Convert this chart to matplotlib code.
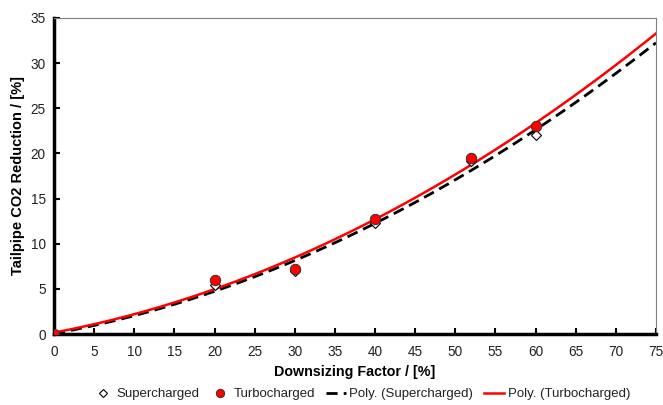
import numpy as np
import matplotlib
matplotlib.use("Agg")
import matplotlib.pyplot as plt

plt.rcParams['font.family'] = ['Liberation Sans', 'DejaVu Sans']

downsizing = [0, 20, 30, 40, 52, 60]
supercharged = [0.0, 5.4, 7.0, 12.3, 19.2, 22.0]
turbocharged = [0.0, 6.0, 7.2, 12.7, 19.5, 23.0]
x_ticks = list(range(0, 80, 5))
y_ticks = list(range(0, 40, 5))

fig = plt.figure(figsize=(6.63, 4.05), dpi=100)
ax = fig.add_axes([0.0814, 0.1753, 0.908, 0.7803])

xs = np.linspace(0, 75, 200)
ps = np.polyfit(downsizing, supercharged, 2)
pt = np.polyfit(downsizing, turbocharged, 2)

ax.plot(downsizing, supercharged, linestyle='none', marker='D', markersize=5.5,
        markerfacecolor='white', markeredgecolor='black', markeredgewidth=0.8,
        label='Supercharged', zorder=3)
ax.plot(downsizing, turbocharged, linestyle='none', marker='o', markersize=7.5,
        markerfacecolor='#ff0000', markeredgecolor='#333333', markeredgewidth=0.7,
        label='Turbocharged', zorder=4)
ax.plot(xs, np.polyval(ps, xs), color='black', linewidth=2, linestyle=(0, (4, 2.2)),
        label='Poly. (Supercharged)', zorder=2)
ax.plot(xs, np.polyval(pt, xs), color='#ff0000', linewidth=1.8,
        label='Poly. (Turbocharged)', zorder=2)

ax.set_xlim(0, 75)
ax.set_ylim(0, 35)
ax.set_xticks(x_ticks)
ax.set_yticks(y_ticks)
ax.tick_params(direction='in', length=4, width=1.5, labelsize=9.8, colors='black')
for lab in ax.get_xticklabels() + ax.get_yticklabels():
    lab.set_color('#222222')
ax.tick_params(axis='x', pad=8)
ax.tick_params(axis='y', pad=6)

for s in ['left', 'bottom']:
    ax.spines[s].set_linewidth(2.5)
    ax.spines[s].set_color('black')
for s in ['top', 'right']:
    ax.spines[s].set_linewidth(0.8)
    ax.spines[s].set_color('#808080')

ax.set_xlabel('Downsizing Factor / [%]', fontsize=10.3, fontweight='bold', labelpad=4)
ax.set_ylabel('Tailpipe CO2 Reduction / [%]', fontsize=10.5, fontweight='bold', labelpad=4)

leg = fig.legend(*ax.get_legend_handles_labels(), loc='center', bbox_to_anchor=(0.545, 0.027),
                 ncol=4, frameon=False, fontsize=9.5, handlelength=1.5, handletextpad=0.3,
                 columnspacing=0.8, markerscale=0.8)
for t in leg.get_texts():
    t.set_color('#222222')

fig.savefig('out.png', dpi=100)
